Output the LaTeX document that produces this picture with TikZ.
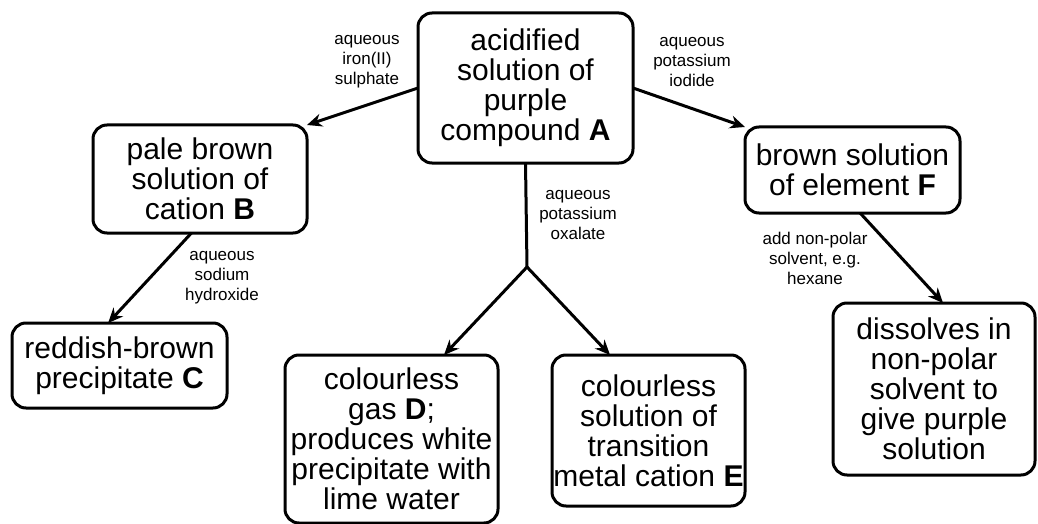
\documentclass[tikz,border=0pt]{standalone}
\usepackage{fontspec}
\setmainfont{Liberation Sans}
\usetikzlibrary{arrows.meta}
\tikzset{
	box/.style={draw, line width=1.5pt, rounded corners=7pt, align=center, inner sep=0pt, outer sep=0pt, font=\fontsize{15}{15}\selectfont},
	reagent/.style={align=center, inner sep=0pt, font=\fontsize{8.5}{10}\selectfont},
	react/.style={line width=1.5pt, -{Stealth[length=7.5pt,width=6.5pt]}}
}

\begin{document}
\begin{tikzpicture}[x=0.5pt, y=-0.5pt]
		%%%%% START %%%%%
		
		\useasboundingbox (0, 0) rectangle (1038, 524);
		
		\node[box, minimum width=107.5pt, minimum height=75pt] (A) at (525.5, 88) {acidified\\solution of\\purple\\compound \textbf{A}};
		\node[box, minimum width=107pt, minimum height=54pt] (B) at (200, 179) {pale brown\\solution of\\cation \textbf{B}};
		\node[box, minimum width=107.5pt, minimum height=42.5pt] (C) at (119.5, 365.5) {reddish-brown\\precipitate \textbf{C}};
		\node[box, minimum width=106.5pt, minimum height=84pt] (D) at (391.5, 439) {colourless\\gas \textbf{D};\\produces white\\precipitate with\\lime water};
		\node[box, minimum width=96.5pt, minimum height=75.5pt] (E) at (648.5, 430.5) {colourless\\solution of\\transition\\metal cation \textbf{E}};
		\node[box, minimum width=107.5pt, minimum height=43pt] (F) at (852.5, 170) {brown solution\\of element \textbf{F}};
		\node[box, minimum width=101pt, minimum height=86pt] (G) at (934, 389) {dissolves in\\non-polar\\solvent to\\give purple\\solution};
		
		\coordinate (split) at (527, 267);
		
		\draw[react] (A.west) -- (B.north east);
		\draw[react] (A.east) -- (F.north west);
		\draw[line width=1.5pt] (A.south) -- (split);
		\draw[react] (split) -- (D.58.5);
		\draw[react] (split) -- (E.117);
		\draw[react] (B.261.6) -- (C.105);
		\draw[react] (F.280) -- (G.84);
		
		\node[reagent] (fe) at (367, 62) {aqueous\\iron(II)\\sulphate};
		\node[reagent] (ki) at (692, 62) {aqueous\\potassium\\iodide};
		\node[reagent] (ox) at (578, 215) {aqueous\\potassium\\oxalate};
		\node[reagent] (naoh) at (222, 278) {aqueous\\sodium\\hydroxide};
		\node[reagent] (hex) at (815, 258) {add non-polar\\solvent, e.g.\\hexane};
		
		%%%%% END %%%%%
\end{tikzpicture}
\end{document}
